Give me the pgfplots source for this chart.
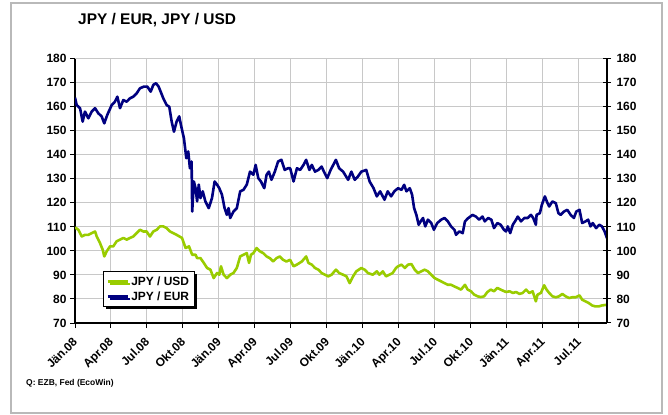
\documentclass[border=0pt]{standalone}
\usepackage{fontspec}
\setmainfont{Liberation Sans}
\usepackage{pgfplots}
\pgfplotsset{compat=1.18}
\usepackage{pgfplotstable}
\usetikzlibrary{shadows}
\definecolor{eurblue}{HTML}{000080}
\definecolor{usdgreen}{HTML}{99CC00}
\definecolor{gridgray}{HTML}{C8C8C8}

% x = months since Jan 2008
\pgfplotstableread{
m v
0 163.8
0.14 160.7
0.42 159.4
0.64 153.8
0.83 158
1.11 155.2
1.39 158
1.67 159.4
1.94 157.3
2.22 156
2.44 153.1
2.69 156.6
3.06 160.7
3.33 162.1
3.53 164.2
3.75 159.4
4.03 162.8
4.31 162.1
4.58 163.5
4.86 164.2
5.14 165.6
5.42 167.7
5.75 168.4
6.03 168.4
6.31 166.3
6.53 169.1
6.75 169.8
6.97 168.4
7.14 166.3
7.36 163.5
7.64 160.7
7.86 160
8.06 153.8
8.25 149.6
8.47 153.8
8.69 156
8.85 152
9.08 146.9
9.28 138.6
9.44 141.4
9.58 134.4
9.72 137.2
9.77 116.4
9.91 128.9
10.05 126.1
10.18 120.6
10.32 127.6
10.46 122
10.65 124.8
10.87 120.6
11.15 117.8
11.42 122
11.64 128.9
11.84 127.6
12.03 126.1
12.25 123.4
12.47 117.8
12.66 115
12.8 117.8
12.94 113.7
13.21 116.4
13.49 117.8
13.77 124.8
14.04 125.4
14.32 127.6
14.59 133
14.87 131.7
15.06 135.8
15.28 130.3
15.5 128.9
15.78 126.1
15.97 131.7
16.16 133
16.38 129.6
16.66 133
16.93 137.2
17.21 137.9
17.48 133.7
17.76 134.4
17.94 134.4
18.22 128.9
18.5 134.4
18.77 133.7
19.05 135.8
19.27 137.9
19.54 133.7
19.74 135.8
20.01 133
20.29 133.7
20.56 135.1
20.75 133
21.03 130.3
21.31 133.7
21.75 137.9
22.02 134.4
22.35 133
22.77 129.6
23.04 133
23.32 129.6
23.59 131
23.87 133
24.28 133.7
24.56 128.9
24.89 126.1
25.16 122.7
25.44 124.8
25.8 121.3
26.07 124.8
26.35 122.7
26.62 124.8
26.93 126.1
27.22 125.4
27.44 127.5
27.63 124.8
27.91 126.1
28.1 123.4
28.27 117.8
28.46 115
28.65 110.9
28.82 112.3
29.01 113.7
29.2 110.2
29.42 113
29.7 111.6
29.92 108.8
30.2 111.6
30.53 113
30.8 113.7
31.08 112.3
31.35 110.2
31.63 108.8
31.77 106.7
32.04 108.1
32.32 107.4
32.51 112.3
32.79 113.7
33.14 115
33.42 114.3
33.69 113
33.97 114.3
34.16 112.3
34.44 113.7
34.71 113
34.93 109.5
35.21 111.6
35.48 110.9
35.76 108.8
35.93 108.1
36.08 110.2
36.28 107.4
36.5 110.9
36.77 113
36.91 114.3
37.18 112.3
37.46 113.7
37.74 113.7
38.01 115
38.2 113.7
38.42 110.9
38.48 115
38.75 115.7
38.92 119.2
39.17 122.7
39.39 119.9
39.53 118.5
39.8 120.6
40.08 119.9
40.3 115.7
40.49 115
40.77 116.4
41.04 117.1
41.32 115
41.59 113.7
41.79 116.4
42.06 117.1
42.28 111.6
42.56 112.3
42.78 113
42.97 110.2
43.16 111.6
43.44 109.5
43.71 110.9
43.93 110.2
44.15 108.1
44.35 105.3
}\eur

\pgfplotstableread{
m v
0 109.8
0.28 108.8
0.56 106
0.83 106.7
1.11 106.7
1.39 107.4
1.67 108.1
1.81 106
2.08 103.3
2.31 100.5
2.44 97.7
2.64 99.8
2.92 101.9
3.19 101.9
3.47 104
3.75 104.7
4.03 105.4
4.31 104.7
4.58 105.4
4.86 106
5.14 107.4
5.42 108.8
5.69 108.1
5.97 108.1
6.25 106
6.53 108.1
6.81 108.8
7.08 110.2
7.36 110.2
7.64 109.5
7.92 108.1
8.19 107.4
8.47 106.7
8.92 105.4
9.22 101.2
9.5 101.9
9.77 98.4
10.05 98.4
10.18 97
10.46 97
10.74 95
11.01 92.9
11.29 92.2
11.56 88.7
11.84 90.8
12.03 90.1
12.17 93.6
12.39 90.1
12.66 88.7
12.94 90.1
13.21 90.8
13.49 92.9
13.77 97.7
14.04 98.4
14.32 99.1
14.51 95
14.67 98.4
14.87 99.1
15.14 101.2
15.42 99.8
15.69 99.1
15.97 97.7
16.24 97
16.52 95.6
16.8 97
17.07 97.7
17.35 96.3
17.62 95.6
17.93 96.3
18.22 93.6
18.5 94.3
18.91 95.6
19.27 97.7
19.46 95
19.74 94.3
20.01 92.9
20.29 92.2
20.56 90.8
20.84 90.1
21.11 89.4
21.39 90.1
21.75 92.2
22.02 90.8
22.35 90.1
22.63 89.4
22.9 86.6
23.18 89.4
23.45 91.5
23.87 92.9
24.14 92.2
24.42 90.8
24.83 90.1
25.16 91.5
25.38 90.1
25.66 91.5
25.93 89.4
26.21 90.1
26.48 90.8
26.76 92.9
26.93 93.6
27.22 94.3
27.5 92.9
27.77 94.3
28.05 94.5
28.32 92.2
28.6 90.8
28.87 91.5
29.15 92.2
29.42 91.5
29.7 90.1
29.98 88.7
30.25 88
30.53 87.3
30.8 86.6
31.08 85.9
31.35 85.9
31.63 85.2
31.9 84.6
32.18 83.9
32.51 85.9
32.73 83.9
33.01 83.2
33.28 81.8
33.56 81.1
33.83 80.8
34.11 81.1
34.38 82.9
34.66 83.9
34.93 83.2
35.21 84.6
35.48 83.9
35.93 82.9
36.22 83.2
36.5 82.5
36.77 82.9
37.05 82.1
37.32 82.5
37.6 83.9
37.87 82.5
38.15 83.2
38.42 79
38.56 81.8
38.84 82.5
39.11 85.7
39.31 83.9
39.53 82.5
39.8 81.1
40.08 80.7
40.35 81.1
40.63 82.1
40.9 81.1
41.18 80.4
41.45 80.7
41.73 80.7
42.06 81.5
42.28 79.7
42.56 79
42.83 78.3
43.11 77.3
43.38 76.9
43.66 76.9
43.93 77.3
44.35 77.6
}\usd

\pgfplotsset{
  fxaxis/.style={
    at={(75bp,92bp)}, anchor=south west, scale only axis,
    width=532bp, height=264.3bp,
    xmin=0, xmax=44.35, ymin=70, ymax=180,
    ytick={70,80,...,180},
    axis line style={-, black, line width=1.2bp},
    tick style={black, line width=1bp},
    /pgf/number format/assume math mode=true,
    ticklabel style={font=\bfseries\fontsize{12}{14}\selectfont},
  },
}

\begin{document}
\begin{tikzpicture}
\useasboundingbox (0,0) rectangle (668bp,415bp);
\draw[gray!55, line width=2bp] (11bp,2bp) rectangle (662bp,412bp);
\node[anchor=west, inner sep=0pt, font=\bfseries\fontsize{15.5}{18}\selectfont] at (78bp,395bp) {JPY / EUR, JPY / USD};
\node[anchor=west, inner sep=0pt, font=\bfseries\fontsize{8.5}{10}\selectfont] at (26bp,32bp) {Q: EZB, Fed (EcoWin)};

\begin{axis}[
  fxaxis,
  axis x line*=bottom, axis y line*=left,
  xtick={0,3,...,42},
  xticklabels={Jän.08,Apr.08,Jul.08,Okt.08,Jän.09,Apr.09,Jul.09,Okt.09,Jän.10,Apr.10,Jul.10,Okt.10,Jän.11,Apr.11,Jul.11},
  xticklabel shift=7bp,
  xticklabel style={xshift=-3bp, rotate=45, anchor=north east, inner sep=1bp},
  tick align=outside, major tick length=5bp,
  grid=major, grid style={gridgray, line width=1bp},
  legend style={at={(0.053,0.06)}, anchor=south west, draw=black, line width=1bp,
    fill=white, font=\bfseries\fontsize{12}{14}\selectfont, inner sep=3bp,
    row sep=1bp, cells={anchor=west},
    drop shadow={shadow xshift=2.5bp, shadow yshift=-2.5bp, fill=black, opacity=1}},
  legend image code/.code={\draw[#1] (0bp,0bp) -- (20bp,0bp);},
]
\addplot[usdgreen, line width=2.6bp, line join=round] table[x=m, y=v] {\usd};
\addlegendentry{JPY / USD}
\addplot[eurblue, line width=2.6bp, line join=round] table[x=m, y=v] {\eur};
\addlegendentry{JPY / EUR}
\end{axis}

\begin{axis}[
  fxaxis,
  axis x line=none, axis y line*=right,
  tick align=center, major tick length=8bp,
  yticklabel style={xshift=2bp},
]
\end{axis}
\end{tikzpicture}
\end{document}
